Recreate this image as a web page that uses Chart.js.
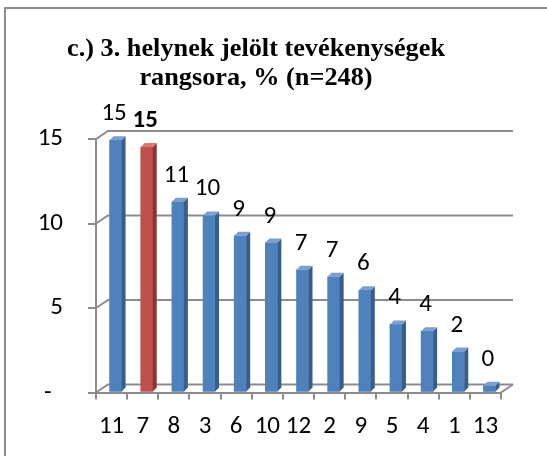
<!DOCTYPE html>
<html>
<head>
<meta charset="utf-8">
<script src="https://cdn.jsdelivr.net/npm/chart.js@4.4.1/dist/chart.umd.min.js"></script>
<style>
  html, body { margin: 0; padding: 0; background: #fff; }
  #wrap { position: relative; width: 547px; height: 456px; overflow: hidden; }
  #frame { position: absolute; left: 4px; top: 7px; right: -4px; bottom: -4px;
           border-top: 2px solid #8c8c8c; border-left: 2px solid #8c8c8c; }
  #rankChart { position: absolute; left: 0; top: 0; }
</style>
</head>
<body>
<div id="wrap">
  <div id="frame"></div>
  <canvas id="rankChart" width="547" height="456"></canvas>
</div>
<script>
// activity codes, ordered by share
const categories = ['11', '7', '8', '3', '6', '10', '12', '2', '9', '5', '4', '1', '13'];
// share of respondents, % (n=248)
const shares = [14.92, 14.52, 11.29, 10.48, 9.27, 8.87, 7.26, 6.85, 6.05, 4.03, 3.63, 2.42, 0.40];
const yTicks = [0, 5, 10, 15];
const titleLines = ['c.) 3. helynek jelölt tevékenységek', 'rangsora, % (n=248)'];
const highlighted = 1; // the "7" bar is red

const lineGrey = '#8c8c8c';
const blue = { face: '#4f81bd', side: '#385d8a', top: '#7a9fd0' };
const red = { face: '#c0504d', side: '#8a3532', top: '#d47b78' };
const depthX = 12, depthY = -8;   // back wall offset
const shiftX = 4;                 // bars sit halfway into the depth
const labelFont = 'Carlito';
const labelSize = 25;

// title, fitted to the width of the original
const titlePlugin = {
    id: 'wideTitle',
    afterDraw(chart) {
        const ctx = chart.ctx;
        ctx.save();
        ctx.font = 'bold 25px "Liberation Serif"';
        ctx.fillStyle = '#000';
        ctx.textAlign = 'center';
        ctx.textBaseline = 'alphabetic';
        const sx = 378 / ctx.measureText(titleLines[0]).width;
        ctx.translate(256, 0);
        ctx.scale(sx, 1);
        ctx.fillText(titleLines[0], 0, 56);
        ctx.fillText(titleLines[1], 0, 85);
        ctx.restore();
    }
};

// back wall gridlines and floor, drawn before the bars
const wallPlugin = {
    id: 'wall3d',
    beforeDatasetsDraw(chart) {
        const { ctx, chartArea } = chart;
        const y = chart.scales.y;
        ctx.save();
        ctx.strokeStyle = lineGrey;
        ctx.lineWidth = 2;
        yTicks.forEach((v) => {
            const py = y.getPixelForValue(v);
            ctx.beginPath();
            ctx.moveTo(chartArea.left, py);
            ctx.lineTo(chartArea.left + depthX, py + depthY);
            ctx.lineTo(chartArea.right + depthX, py + depthY);
            ctx.stroke();
        });
        // right end of the floor
        const base = y.getPixelForValue(0);
        ctx.beginPath();
        ctx.moveTo(chartArea.right, base);
        ctx.lineTo(chartArea.right + depthX, base + depthY);
        ctx.stroke();
        ctx.restore();
    },
    beforeDatasetDraw(chart) {
        chart.ctx.save();
        chart.ctx.translate(shiftX, 0);
    },
    afterDatasetDraw(chart, args) {
        const ctx = chart.ctx;
        const d = 4;
        args.meta.data.forEach((bar, i) => {
            const c = i === highlighted ? red : blue;
            const x1 = bar.x - bar.width / 2, x2 = bar.x + bar.width / 2;
            // side
            ctx.fillStyle = c.side;
            ctx.beginPath();
            ctx.moveTo(x2, bar.y);
            ctx.lineTo(x2 + d, bar.y - d);
            ctx.lineTo(x2 + d, bar.base - d);
            ctx.lineTo(x2, bar.base);
            ctx.closePath();
            ctx.fill();
            // top
            ctx.fillStyle = c.top;
            ctx.beginPath();
            ctx.moveTo(x1, bar.y);
            ctx.lineTo(x1 + d, bar.y - d);
            ctx.lineTo(x2 + d, bar.y - d);
            ctx.lineTo(x2, bar.y);
            ctx.closePath();
            ctx.fill();
        });
        ctx.restore();
    },
    afterDatasetsDraw(chart) {
        const ctx = chart.ctx;
        ctx.save();
        ctx.fillStyle = '#000';
        ctx.textAlign = 'center';
        ctx.textBaseline = 'alphabetic';
        chart.getDatasetMeta(0).data.forEach((bar, i) => {
            ctx.font = (i === highlighted ? 'bold ' : '') + labelSize + 'px ' + labelFont;
            ctx.fillText(Math.round(shares[i]).toString(), bar.x + 2.5, bar.y - 20);
        });
        ctx.restore();
    }
};

function drawChart() {
    new Chart(document.getElementById('rankChart').getContext('2d'), {
        type: 'bar',
        data: {
            labels: categories,
            datasets: [{
                data: shares,
                backgroundColor: shares.map((v, i) => i === highlighted ? red.face : blue.face),
                barThickness: 12,
                clip: false
            }]
        },
        options: {
            responsive: false,
            animation: false,
            layout: { padding: { left: 11, right: 46, top: 139, bottom: 0 } },
            plugins: {
                legend: { display: false },
                tooltip: { enabled: false },
                title: { display: false }
            },
            scales: {
                x: {
                    grid: { drawOnChartArea: false, tickLength: 7, color: lineGrey, lineWidth: 2 },
                    border: { display: true, color: lineGrey, width: 2 },
                    ticks: { color: '#000', font: { family: labelFont, size: labelSize }, padding: 12, maxRotation: 0, autoSkip: false },
                    afterFit(scale) { scale.height = 456 - 392.5; }
                },
                y: {
                    min: 0,
                    max: 15,
                    grid: { drawOnChartArea: false, tickLength: 8, color: lineGrey, lineWidth: 2 },
                    border: { display: true, color: lineGrey, width: 2 },
                    ticks: {
                        stepSize: 5,
                        color: '#000',
                        font: { family: labelFont, size: labelSize },
                        padding: 25,
                        callback: (v) => v === 0 ? '-  ' : v
                    },
                    afterFit(scale) { scale.width = 85; }
                }
            }
        },
        plugins: [wallPlugin, titlePlugin]
    });
}

Promise.all([
    document.fonts.load(labelSize + 'px ' + labelFont),
    document.fonts.load('bold ' + labelSize + 'px ' + labelFont),
    document.fonts.load('bold 25px "Liberation Serif"')
]).then(drawChart, drawChart);
</script>
</body>
</html>
